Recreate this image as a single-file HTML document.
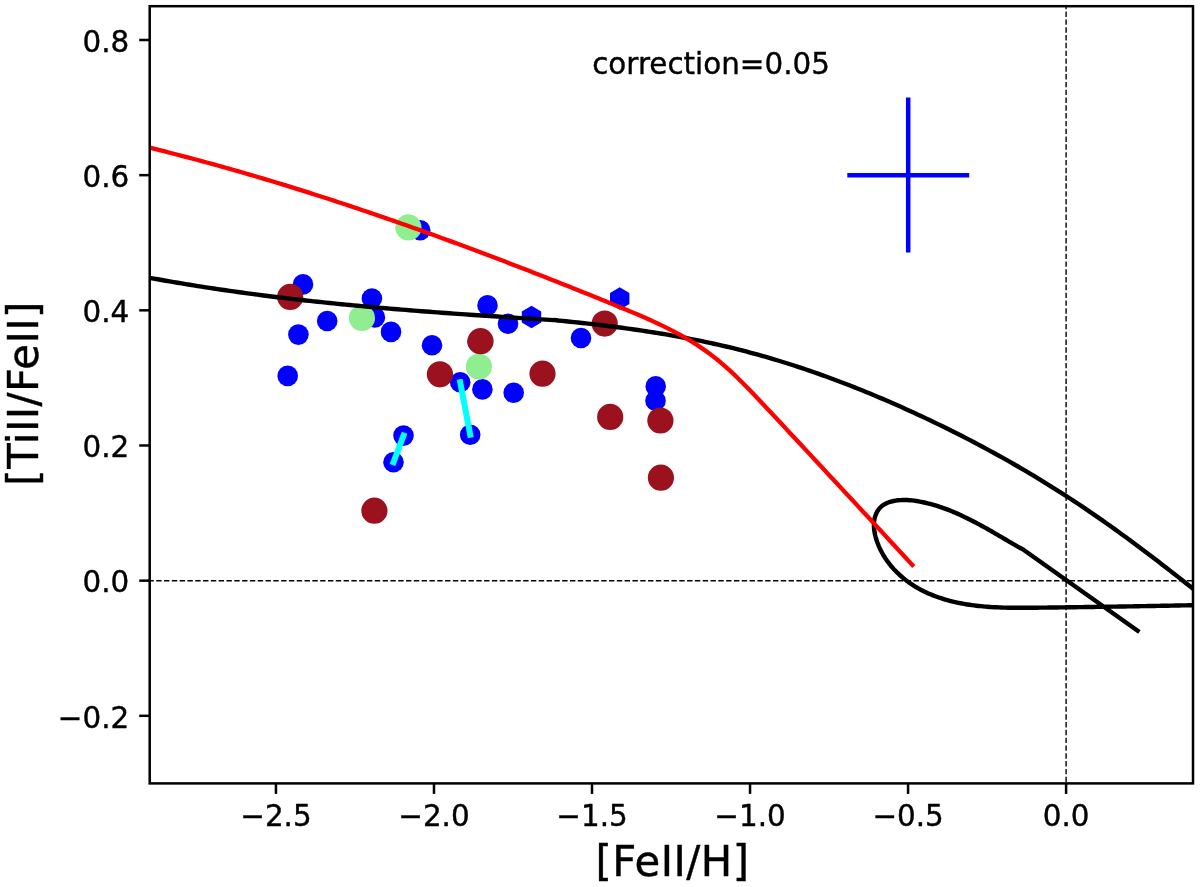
<!DOCTYPE html>
<html lang="en"><head><meta charset="utf-8"><title>[TiII/FeII] vs [FeII/H]</title>
<style>
html,body{margin:0;padding:0;background:#fff;}
body{width:1200px;height:887px;overflow:hidden;}
svg{display:block;}
text{font-family:"DejaVu Sans","Liberation Sans",sans-serif;fill:#000;stroke:#000;stroke-width:0.4px;stroke-linejoin:round;}
.tick{font-size:29.40px;}
.lab{font-size:41.80px;letter-spacing:0.47px;}
.note{font-size:29.40px;}
</style></head><body>
<svg width="1200" height="887" viewBox="0 0 1200 887">
<rect x="0" y="0" width="1200" height="887" fill="#fff"/>
<defs><clipPath id="ax"><rect x="149.70" y="6.20" width="1043.30" height="777.20"/></clipPath></defs>
<g clip-path="url(#ax)">
<line x1="148.40" y1="580.65" x2="1198.00" y2="580.65" stroke="#000" stroke-width="1.50" stroke-dasharray="5.4 2.407" stroke-dashoffset="0.00"/>
<line x1="1066.10" y1="785.40" x2="1066.10" y2="1.20" stroke="#000" stroke-width="1.40" stroke-dasharray="5.4 2.407" stroke-dashoffset="-3.30"/>
<g fill="#0000ff">
<circle cx="420.2" cy="230.2" r="10.3"/>
<circle cx="303.0" cy="284.4" r="10.3"/>
<circle cx="371.9" cy="298.5" r="10.3"/>
<circle cx="374.9" cy="317.4" r="10.3"/>
<circle cx="327.2" cy="321.0" r="10.3"/>
<circle cx="298.4" cy="334.6" r="10.3"/>
<circle cx="391.0" cy="331.9" r="10.3"/>
<circle cx="432.0" cy="345.3" r="10.3"/>
<circle cx="287.7" cy="375.9" r="10.3"/>
<circle cx="403.5" cy="435.6" r="10.3"/>
<circle cx="393.5" cy="462.2" r="10.3"/>
<circle cx="470.2" cy="434.7" r="10.3"/>
<circle cx="460.2" cy="382.2" r="10.3"/>
<circle cx="482.4" cy="389.4" r="10.3"/>
<circle cx="513.7" cy="392.7" r="10.3"/>
<circle cx="487.5" cy="305.4" r="10.3"/>
<circle cx="508.0" cy="323.7" r="10.3"/>
<circle cx="581.0" cy="338.0" r="10.3"/>
<circle cx="655.7" cy="386.4" r="10.3"/>
<circle cx="655.5" cy="400.7" r="10.3"/>
<circle cx="477.6" cy="342.0" r="10.3"/>
<polygon points="531.5,305.8 521.8,311.4 521.8,322.6 531.5,328.2 541.2,322.6 541.2,311.4"/>
<polygon points="619.7,287.3 610.0,292.9 610.0,304.1 619.7,309.7 629.4,304.1 629.4,292.9"/>
</g>
<line x1="403.5" y1="435.6" x2="393.5" y2="462.2" stroke="#00ffff" stroke-width="6.0" stroke-linecap="square"/>
<line x1="460.2" y1="382.2" x2="470.2" y2="434.7" stroke="#00ffff" stroke-width="6.0" stroke-linecap="square"/>
<g fill="#90ee90">
<circle cx="408.4" cy="227.4" r="13.1"/>
<circle cx="361.9" cy="318.0" r="13.1"/>
<circle cx="478.9" cy="366.5" r="13.1"/>
</g>
<g fill="#9b111e">
<circle cx="290.2" cy="296.9" r="13.1"/>
<circle cx="439.9" cy="374.3" r="13.1"/>
<circle cx="480.5" cy="341.2" r="13.1"/>
<circle cx="542.5" cy="373.7" r="13.1"/>
<circle cx="604.7" cy="323.6" r="13.1"/>
<circle cx="610.2" cy="416.9" r="13.1"/>
<circle cx="660.4" cy="420.5" r="13.1"/>
<circle cx="660.9" cy="477.7" r="13.1"/>
<circle cx="374.4" cy="510.7" r="13.1"/>
</g>
<line x1="847.3" y1="175.3" x2="969.2" y2="175.3" stroke="#0000ff" stroke-width="4.5"/>
<line x1="908.2" y1="97.4" x2="908.2" y2="252.6" stroke="#0000ff" stroke-width="4.5"/>
<path d="M149.70 277.83 L153.70 278.57 L157.70 279.29 L161.70 280.01 L165.70 280.71 L169.70 281.41 L173.70 282.10 L177.70 282.78 L181.70 283.45 L185.70 284.12 L189.70 284.77 L193.70 285.42 L197.70 286.06 L201.70 286.68 L205.70 287.31 L209.70 287.92 L213.70 288.53 L217.70 289.12 L221.70 289.71 L225.70 290.29 L229.70 290.87 L233.70 291.44 L237.70 292.00 L241.70 292.55 L245.70 293.09 L249.70 293.63 L253.70 294.16 L257.70 294.69 L261.70 295.20 L265.70 295.71 L269.70 296.21 L273.70 296.71 L277.70 297.20 L281.70 297.68 L285.70 298.16 L289.70 298.63 L293.70 299.10 L297.70 299.56 L301.70 300.01 L305.70 300.45 L309.70 300.89 L313.70 301.33 L317.70 301.76 L321.70 302.18 L325.70 302.60 L329.70 303.01 L333.70 303.42 L337.70 303.82 L341.70 304.22 L345.70 304.61 L349.70 305.00 L353.70 305.38 L357.70 305.75 L361.70 306.13 L365.70 306.49 L369.70 306.86 L373.70 307.21 L377.70 307.57 L381.70 307.92 L385.70 308.26 L389.70 308.60 L393.70 308.94 L397.70 309.27 L401.70 309.60 L405.70 309.93 L409.70 310.25 L413.70 310.57 L417.70 310.88 L421.70 311.19 L425.70 311.50 L429.70 311.81 L433.70 312.11 L437.70 312.41 L441.70 312.70 L445.70 312.99 L449.70 313.28 L453.70 313.57 L457.70 313.85 L461.70 314.14 L465.70 314.41 L469.70 314.69 L473.70 314.97 L477.70 315.24 L481.70 315.51 L485.70 315.78 L489.70 316.04 L493.70 316.31 L497.70 316.57 L501.70 316.83 L505.70 317.09 L509.70 317.34 L513.70 317.60 L517.70 317.86 L521.70 318.11 L525.70 318.36 L529.70 318.61 L533.70 318.86 L537.70 319.11 L541.70 319.36 L545.70 319.61 L549.70 319.85 L553.70 320.10 L554.00 319.85 L558.00 320.52 L562.00 320.91 L566.00 321.31 L570.00 321.72 L574.00 322.14 L578.00 322.56 L582.00 322.99 L586.00 323.43 L590.00 323.87 L594.00 324.33 L598.00 324.80 L602.00 325.27 L606.00 325.76 L610.00 326.25 L614.00 326.76 L618.00 327.27 L622.00 327.80 L626.00 328.34 L630.00 328.89 L634.00 329.45 L638.00 330.03 L642.00 330.62 L646.00 331.22 L650.00 331.84 L654.00 332.46 L658.00 333.11 L662.00 333.77 L666.00 334.44 L670.00 335.12 L674.00 335.83 L678.00 336.55 L682.00 337.28 L686.00 338.03 L690.00 338.80 L694.00 339.58 L698.00 340.38 L702.00 341.20 L706.00 342.04 L710.00 342.90 L714.00 343.77 L718.00 344.66 L722.00 345.58 L726.00 346.51 L730.00 347.46 L734.00 348.43 L738.00 349.43 L742.00 350.44 L746.00 351.48 L750.00 352.53 L754.00 353.61 L758.00 354.71 L762.00 355.83 L766.00 356.97 L770.00 358.13 L774.00 359.31 L778.00 360.51 L782.00 361.74 L786.00 362.98 L790.00 364.24 L794.00 365.53 L798.00 366.83 L802.00 368.16 L806.00 369.50 L810.00 370.86 L814.00 372.24 L818.00 373.65 L822.00 375.07 L826.00 376.51 L830.00 377.97 L834.00 379.44 L838.00 380.94 L842.00 382.46 L846.00 383.99 L850.00 385.54 L854.00 387.11 L858.00 388.70 L862.00 390.31 L866.00 391.93 L870.00 393.57 L874.00 395.23 L878.00 396.91 L882.00 398.61 L886.00 400.32 L890.00 402.05 L894.00 403.80 L898.00 405.56 L902.00 407.34 L906.00 409.14 L910.00 410.95 L914.00 412.78 L918.00 414.63 L922.00 416.49 L926.00 418.37 L930.00 420.27 L934.00 422.18 L938.00 424.11 L942.00 426.05 L946.00 428.02 L950.00 430.00 L954.00 432.00 L958.00 434.01 L962.00 436.05 L966.00 438.10 L970.00 440.17 L974.00 442.26 L978.00 444.37 L982.00 446.49 L986.00 448.64 L990.00 450.81 L994.00 452.99 L998.00 455.20 L1002.00 457.42 L1006.00 459.67 L1010.00 461.93 L1014.00 464.22 L1018.00 466.53 L1022.00 468.86 L1026.00 471.21 L1030.00 473.58 L1034.00 475.97 L1038.00 478.38 L1042.00 480.82 L1046.00 483.28 L1050.00 485.76 L1054.00 488.26 L1058.00 490.79 L1062.00 493.34 L1066.00 495.91 L1070.00 498.50 L1074.00 501.12 L1078.00 503.76 L1082.00 506.43 L1086.00 509.12 L1090.00 511.83 L1094.00 514.57 L1098.00 517.34 L1102.00 520.12 L1106.00 522.94 L1110.00 525.77 L1114.00 528.63 L1118.00 531.51 L1122.00 534.41 L1126.00 537.33 L1130.00 540.27 L1134.00 543.23 L1138.00 546.20 L1142.00 549.20 L1146.00 552.21 L1150.00 555.24 L1154.00 558.29 L1158.00 561.35 L1162.00 564.43 L1166.00 567.52 L1170.00 570.62 L1174.00 573.74 L1178.00 576.86 L1182.00 580.00 L1186.00 583.16 L1190.00 586.32 L1194.00 589.49 L1198.00 592.67 L1200.00 594.26" fill="none" stroke="#000" stroke-width="4.4" stroke-linejoin="round" stroke-linecap="square"/>
<path d="M1200.01 605.07 L1197.74 605.11 L1195.48 605.16 L1193.22 605.20 L1190.96 605.25 L1188.69 605.29 L1186.43 605.33 L1184.17 605.38 L1181.91 605.42 L1179.65 605.47 L1177.39 605.51 L1175.13 605.55 L1172.87 605.59 L1170.61 605.64 L1168.34 605.68 L1166.08 605.72 L1163.82 605.76 L1161.56 605.80 L1159.30 605.85 L1157.04 605.89 L1154.78 605.93 L1152.53 605.97 L1150.27 606.01 L1148.01 606.05 L1145.75 606.09 L1143.49 606.13 L1141.23 606.17 L1138.97 606.21 L1136.71 606.25 L1134.45 606.29 L1132.19 606.33 L1129.93 606.36 L1127.67 606.40 L1125.42 606.44 L1123.16 606.48 L1120.90 606.51 L1118.64 606.55 L1116.38 606.59 L1114.12 606.62 L1111.86 606.66 L1109.60 606.70 L1107.35 606.73 L1105.09 606.77 L1102.83 606.80 L1100.57 606.84 L1098.31 606.87 L1096.05 606.91 L1093.79 606.94 L1091.53 606.97 L1089.27 607.01 L1087.01 607.04 L1084.76 607.07 L1082.50 607.11 L1080.24 607.14 L1077.98 607.17 L1075.72 607.20 L1073.46 607.23 L1071.20 607.26 L1068.94 607.29 L1066.68 607.32 L1064.42 607.35 L1062.16 607.38 L1059.90 607.41 L1057.64 607.44 L1055.38 607.47 L1053.12 607.50 L1050.85 607.52 L1048.59 607.55 L1046.33 607.58 L1044.07 607.61 L1041.81 607.63 L1039.55 607.66 L1037.28 607.68 L1035.02 607.71 L1032.76 607.73 L1030.50 607.75 L1028.23 607.77 L1025.97 607.79 L1023.71 607.80 L1021.45 607.81 L1019.19 607.81 L1016.92 607.80 L1014.66 607.79 L1012.40 607.77 L1010.14 607.73 L1007.88 607.69 L1005.62 607.64 L1003.36 607.58 L1001.10 607.51 L998.84 607.42 L996.58 607.32 L994.33 607.21 L992.07 607.08 L989.81 606.93 L987.56 606.77 L985.31 606.59 L983.05 606.40 L980.80 606.18 L978.55 605.94 L976.30 605.69 L974.05 605.41 L971.81 605.11 L969.56 604.79 L967.32 604.45 L965.08 604.08 L962.85 603.68 L960.62 603.26 L958.40 602.82 L956.18 602.34 L953.98 601.84 L951.78 601.31 L949.59 600.76 L947.41 600.17 L945.24 599.55 L943.08 598.90 L940.93 598.22 L938.80 597.50 L936.68 596.75 L934.57 595.97 L932.48 595.15 L930.40 594.30 L928.34 593.41 L926.30 592.48 L924.28 591.51 L922.27 590.51 L920.28 589.47 L918.32 588.38 L916.37 587.26 L914.45 586.09 L912.55 584.88 L910.67 583.63 L908.82 582.34 L907.00 581.01 L905.21 579.63 L903.45 578.22 L901.72 576.76 L900.02 575.27 L898.36 573.73 L896.73 572.16 L895.15 570.54 L893.60 568.89 L892.10 567.19 L890.64 565.46 L889.23 563.69 L887.86 561.88 L886.54 560.03 L885.27 558.15 L884.06 556.22 L882.89 554.26 L881.78 552.26 L880.73 550.23 L879.73 548.16 L878.80 546.05 L877.92 543.90 L877.11 541.72 L876.37 539.51 L875.70 537.27 L875.12 535.01 L874.64 532.74 L874.27 530.46 L874.02 528.19 L873.90 525.92 L873.92 523.68 L874.09 521.46 L874.43 519.27 L874.93 517.12 L875.61 515.04 L876.45 513.04 L877.47 511.15 L878.66 509.39 L880.02 507.77 L881.55 506.33 L883.24 505.06 L885.06 503.96 L887.01 503.01 L889.06 502.21 L891.21 501.55 L893.42 501.01 L895.69 500.60 L898.00 500.30 L900.33 500.10 L902.66 500.00 L904.99 499.98 L907.30 500.05 L909.61 500.19 L911.90 500.40 L914.18 500.67 L916.45 500.99 L918.71 501.37 L920.95 501.79 L923.19 502.25 L925.41 502.75 L927.61 503.28 L929.81 503.84 L931.99 504.43 L934.16 505.05 L936.32 505.70 L938.47 506.38 L940.60 507.08 L942.73 507.82 L944.85 508.58 L946.95 509.36 L949.05 510.17 L951.14 511.00 L953.22 511.86 L955.29 512.74 L957.35 513.64 L959.40 514.55 L961.45 515.49 L963.48 516.45 L965.51 517.42 L967.54 518.41 L969.56 519.42 L971.57 520.44 L973.57 521.47 L975.57 522.52 L977.56 523.58 L979.55 524.65 L981.54 525.73 L983.52 526.83 L985.49 527.93 L987.47 529.04 L989.43 530.15 L991.40 531.28 L993.36 532.41 L995.32 533.54 L997.28 534.68 L999.23 535.82 L1001.19 536.96 L1003.14 538.10 L1005.09 539.25 L1007.04 540.39 L1008.99 541.53 L1010.94 542.67 L1012.89 543.81 L1014.84 544.94 L1016.79 546.07 L1018.74 547.19 L1020.69 548.31 L1022.75 549.25 L1137.60 630.70" fill="none" stroke="#000" stroke-width="4.4" stroke-linejoin="round" stroke-linecap="square"/>
<path d="M149.70 147.71 L153.70 148.70 L157.70 149.69 L161.70 150.69 L165.70 151.69 L169.70 152.71 L173.70 153.73 L177.70 154.76 L181.70 155.80 L185.70 156.85 L189.70 157.90 L193.70 158.97 L197.70 160.04 L201.70 161.11 L205.70 162.20 L209.70 163.29 L213.70 164.39 L217.70 165.50 L221.70 166.61 L225.70 167.73 L229.70 168.86 L233.70 170.00 L237.70 171.14 L241.70 172.29 L245.70 173.45 L249.70 174.62 L253.70 175.79 L257.70 176.97 L261.70 178.15 L265.70 179.34 L269.70 180.54 L273.70 181.75 L277.70 182.96 L281.70 184.18 L285.70 185.41 L289.70 186.64 L293.70 187.88 L297.70 189.13 L301.70 190.38 L305.70 191.64 L309.70 192.90 L313.70 194.18 L317.70 195.45 L321.70 196.74 L325.70 198.03 L329.70 199.33 L333.70 200.63 L337.70 201.94 L341.70 203.25 L345.70 204.57 L349.70 205.90 L353.70 207.23 L357.70 208.57 L361.70 209.92 L365.70 211.27 L369.70 212.62 L373.70 213.99 L377.70 215.35 L381.70 216.73 L385.70 218.11 L389.70 219.49 L393.70 220.88 L397.70 222.28 L401.70 223.68 L405.70 225.08 L409.70 226.49 L413.70 227.91 L417.70 229.33 L421.70 230.76 L425.70 232.19 L429.70 233.63 L433.70 235.07 L437.70 236.52 L441.70 237.97 L445.70 239.43 L449.70 240.89 L453.70 242.36 L457.70 243.83 L461.70 245.31 L465.70 246.79 L469.70 248.28 L473.70 249.77 L477.70 251.26 L481.70 252.76 L485.70 254.27 L489.70 255.78 L493.70 257.29 L497.70 258.81 L501.70 260.33 L505.70 261.86 L509.70 263.39 L513.70 264.92 L517.70 266.46 L521.70 268.01 L525.70 269.55 L529.70 271.11 L533.70 272.66 L537.70 274.22 L541.70 275.78 L545.70 277.35 L549.70 278.92 L553.70 280.50 L557.70 282.08 L561.70 283.66 L565.70 285.25 L569.70 286.84 L573.70 288.44 L577.70 290.04 L581.70 291.64 L585.70 293.25 L589.70 294.86 L593.70 296.48 L597.70 298.10 L601.70 299.73 L605.70 301.35 L609.70 302.99 L613.70 304.62 L617.70 306.26 L621.70 307.90 L625.70 309.55 L629.70 311.21 L633.70 312.89 L637.70 314.58 L641.70 316.30 L645.70 318.05 L649.70 319.82 L653.70 321.64 L657.70 323.49 L661.70 325.39 L665.70 327.34 L669.70 329.34 L673.70 331.41 L677.70 333.54 L681.70 335.74 L685.70 338.02 L689.70 340.39 L693.70 342.85 L697.70 345.42 L701.70 348.09 L705.70 350.88 L709.70 353.80 L713.70 356.84 L717.70 360.03 L721.70 363.36 L725.70 366.83 L729.70 370.44 L733.70 374.17 L737.70 378.01 L741.70 381.94 L745.70 385.96 L749.70 390.06 L753.70 394.21 L757.70 398.42 L761.70 402.66 L765.70 406.93 L769.70 411.21 L773.70 415.50 L777.70 419.79 L781.70 424.08 L785.70 428.37 L789.70 432.67 L793.70 436.96 L797.70 441.26 L801.70 445.56 L805.70 449.86 L809.70 454.16 L813.70 458.46 L817.70 462.76 L821.70 467.07 L825.70 471.37 L829.70 475.68 L833.70 479.99 L837.70 484.30 L841.70 488.61 L845.70 492.93 L849.70 497.24 L853.70 501.56 L857.70 505.87 L861.70 510.19 L865.70 514.51 L869.70 518.83 L873.70 523.16 L877.70 527.48 L881.70 531.81 L885.70 536.13 L889.70 540.46 L893.70 544.79 L897.70 549.12 L901.70 553.45 L905.70 557.78 L909.70 562.12 L912.30 564.94" fill="none" stroke="#ff0000" stroke-width="4.3" stroke-linejoin="round" stroke-linecap="square"/>
</g>
<text class="note" x="592.2" y="74.3">correction=0.05</text>
<g stroke="#000" stroke-width="2.50">
<line x1="275.95" y1="783.40" x2="275.95" y2="793.90"/>
<line x1="433.98" y1="783.40" x2="433.98" y2="793.90"/>
<line x1="592.01" y1="783.40" x2="592.01" y2="793.90"/>
<line x1="750.04" y1="783.40" x2="750.04" y2="793.90"/>
<line x1="908.07" y1="783.40" x2="908.07" y2="793.90"/>
<line x1="1066.10" y1="783.40" x2="1066.10" y2="793.90"/>
<line x1="139.20" y1="715.82" x2="149.70" y2="715.82"/>
<line x1="139.20" y1="580.65" x2="149.70" y2="580.65"/>
<line x1="139.20" y1="445.49" x2="149.70" y2="445.49"/>
<line x1="139.20" y1="310.32" x2="149.70" y2="310.32"/>
<line x1="139.20" y1="175.16" x2="149.70" y2="175.16"/>
<line x1="139.20" y1="39.99" x2="149.70" y2="39.99"/>
</g>
<g class="tick" text-anchor="middle">
<text x="275.95" y="826.30">−2.5</text>
<text x="433.98" y="826.30">−2.0</text>
<text x="592.01" y="826.30">−1.5</text>
<text x="750.04" y="826.30">−1.0</text>
<text x="908.07" y="826.30">−0.5</text>
<text x="1066.10" y="826.30">0.0</text>
</g>
<g class="tick" text-anchor="end">
<text x="129.20" y="727.52">−0.2</text>
<text x="129.20" y="592.35">0.0</text>
<text x="129.20" y="457.19">0.2</text>
<text x="129.20" y="322.02">0.4</text>
<text x="129.20" y="186.86">0.6</text>
<text x="129.20" y="51.69">0.8</text>
</g>
<rect x="149.70" y="6.20" width="1043.30" height="777.20" fill="none" stroke="#000" stroke-width="2.50" stroke-linejoin="miter"/>
<text class="lab" text-anchor="middle" x="672.5" y="875.5">[FeII/H]</text>
<text class="lab" text-anchor="middle" transform="translate(37.6 393.4) rotate(-90)">[TiII/FeII]</text>
</svg>
</body></html>
